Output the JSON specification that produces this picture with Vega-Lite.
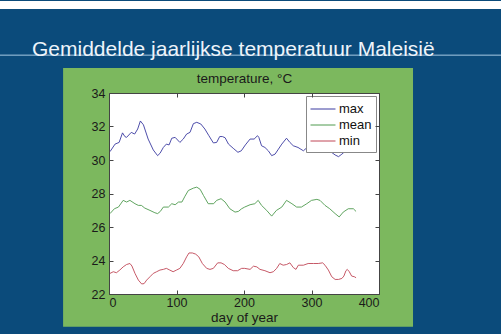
{
  "$schema": "https://vega.github.io/schema/vega-lite/v6.json",
  "width": 270,
  "height": 201,
  "autosize": {"type": "none"},
  "padding": {"left": 109, "top": 93, "right": 122, "bottom": 40},
  "background": "#0b4b7b",
  "title": {
    "text": "Gemiddelde jaarlijkse temperatuur Maleisië",
    "anchor": "start",
    "frame": "group",
    "dx": -77,
    "dy": 76,
    "offset": 0,
    "baseline": "alphabetic",
    "font": "Liberation Sans",
    "fontSize": 21,
    "fontWeight": "normal",
    "color": "#eef4fa"
  },
  "config": {
    "axis": {
      "domainColor": "#444444",
      "tickColor": "#444444",
      "labelColor": "#1a1a1a",
      "titleColor": "#1a1a1a",
      "labelFont": "Liberation Sans",
      "titleFont": "Liberation Sans",
      "labelFontSize": 12.5,
      "titleFontSize": 13.5,
      "titleFontWeight": "normal",
      "grid": false
    },
    "legend": {
      "orient": "top-right",
      "offset": 3,
      "padding": 4,
      "fillColor": "#ffffff",
      "strokeColor": "#888888",
      "labelFont": "Liberation Sans",
      "labelFontSize": 13,
      "labelColor": "#111111",
      "symbolType": "M-1,0H1.94",
      "symbolSize": 289,
      "symbolStrokeWidth": 1,
      "labelOffset": 11,
      "rowPadding": 0
    }
  },
  "resolve": {"axis": {"x": "independent", "y": "independent"}},
  "layer": [
    {
      "data": {"values": [{}]},
      "mark": {"type": "rect", "color": "#ffffff", "clip": false},
      "encoding": {
        "x": {"datum": -162, "type": "quantitative", "scale": {"domain": [0, 400]}, "axis": null},
        "x2": {"datum": 581},
        "y": {"datum": 39.5, "type": "quantitative", "scale": {"domain": [22, 34]}, "axis": null},
        "y2": {"datum": 39.02}
      }
    },
    {
      "data": {"values": [{}]},
      "mark": {"type": "rule", "color": "#a9cbe4", "strokeWidth": 1, "clip": false},
      "encoding": {
        "x": {"datum": -162, "type": "quantitative", "scale": {"domain": [0, 400]}, "axis": null},
        "x2": {"datum": 581},
        "y": {"datum": 36.26, "type": "quantitative", "scale": {"domain": [22, 34]}, "axis": null}
      }
    },
    {
      "data": {"values": [{}]},
      "mark": {"type": "rect", "color": "#7cb85e", "clip": false},
      "encoding": {
        "x": {"datum": -68, "type": "quantitative", "scale": {"domain": [0, 400]}, "axis": null},
        "x2": {"datum": 450.4},
        "y": {"datum": 35.49, "type": "quantitative", "scale": {"domain": [22, 34]}, "axis": null},
        "y2": {"datum": 20.04}
      }
    },
    {
      "data": {"values": [{}]},
      "mark": {"type": "rect", "color": "#ffffff", "clip": false},
      "encoding": {
        "x": {"datum": 0, "type": "quantitative", "scale": {"domain": [0, 400]},
          "axis": {"orient": "top", "zindex": 1, "title": "temperature, °C", "labels": false, "values": [0, 100, 200, 300, 400], "tickSize": -4, "titlePadding": 7}},
        "x2": {"datum": 400},
        "y": {"datum": 22, "type": "quantitative", "scale": {"domain": [22, 34]},
          "axis": {"orient": "right", "zindex": 1, "title": null, "labels": false, "values": [22, 24, 26, 28, 30, 32, 34], "tickSize": -4}},
        "y2": {"datum": 34}
      }
    },
    {
      "data": {"values": [
        {"series": "max", "day": 1.5, "temp": 30.5},
        {"series": "max", "day": 9, "temp": 30.95},
        {"series": "max", "day": 15, "temp": 31.05},
        {"series": "max", "day": 20, "temp": 31.62},
        {"series": "max", "day": 23.5, "temp": 31.4},
        {"series": "max", "day": 26, "temp": 31.35},
        {"series": "max", "day": 33, "temp": 31.65},
        {"series": "max", "day": 38, "temp": 31.55},
        {"series": "max", "day": 42.5, "temp": 31.85},
        {"series": "max", "day": 46.5, "temp": 32.33},
        {"series": "max", "day": 51, "temp": 32.1},
        {"series": "max", "day": 58, "temp": 31.25},
        {"series": "max", "day": 65.6, "temp": 30.6},
        {"series": "max", "day": 72, "temp": 30.26},
        {"series": "max", "day": 75.6, "temp": 30.4},
        {"series": "max", "day": 80.5, "temp": 30.75},
        {"series": "max", "day": 85, "temp": 30.95},
        {"series": "max", "day": 89, "temp": 30.9},
        {"series": "max", "day": 93, "temp": 31.3},
        {"series": "max", "day": 98, "temp": 31.35},
        {"series": "max", "day": 105, "temp": 31.05},
        {"series": "max", "day": 110, "temp": 31.25},
        {"series": "max", "day": 115, "temp": 31.55},
        {"series": "max", "day": 120, "temp": 31.65},
        {"series": "max", "day": 125, "temp": 32.17},
        {"series": "max", "day": 130, "temp": 32.25},
        {"series": "max", "day": 136, "temp": 32.15},
        {"series": "max", "day": 142, "temp": 31.85},
        {"series": "max", "day": 148, "temp": 31.45},
        {"series": "max", "day": 154.6, "temp": 31.02},
        {"series": "max", "day": 159.5, "temp": 31.05},
        {"series": "max", "day": 164, "temp": 31.4},
        {"series": "max", "day": 168, "temp": 31.4},
        {"series": "max", "day": 172, "temp": 31.33},
        {"series": "max", "day": 177, "temp": 30.95},
        {"series": "max", "day": 184, "temp": 30.7},
        {"series": "max", "day": 191, "temp": 30.46},
        {"series": "max", "day": 196, "temp": 30.55},
        {"series": "max", "day": 202, "temp": 30.9},
        {"series": "max", "day": 209, "temp": 31.25},
        {"series": "max", "day": 215, "temp": 31.25},
        {"series": "max", "day": 220, "temp": 31.45},
        {"series": "max", "day": 222, "temp": 31.35},
        {"series": "max", "day": 226, "temp": 30.85},
        {"series": "max", "day": 231, "temp": 30.75},
        {"series": "max", "day": 236, "temp": 30.55},
        {"series": "max", "day": 241, "temp": 30.26},
        {"series": "max", "day": 246, "temp": 30.35},
        {"series": "max", "day": 251, "temp": 30.65},
        {"series": "max", "day": 256, "temp": 30.95},
        {"series": "max", "day": 263, "temp": 31.3},
        {"series": "max", "day": 268, "temp": 31.05},
        {"series": "max", "day": 273, "temp": 30.85},
        {"series": "max", "day": 280, "temp": 30.75},
        {"series": "max", "day": 288, "temp": 30.55},
        {"series": "max", "day": 295, "temp": 30.8},
        {"series": "max", "day": 305, "temp": 31.0},
        {"series": "max", "day": 315, "temp": 30.8},
        {"series": "max", "day": 325, "temp": 30.6},
        {"series": "max", "day": 335, "temp": 30.3},
        {"series": "max", "day": 340, "temp": 30.2},
        {"series": "max", "day": 345, "temp": 30.35},
        {"series": "max", "day": 355, "temp": 30.7},
        {"series": "max", "day": 365, "temp": 30.9},

        {"series": "mean", "day": 1.5, "temp": 26.8},
        {"series": "mean", "day": 8, "temp": 27.09},
        {"series": "mean", "day": 14, "temp": 27.19},
        {"series": "mean", "day": 21, "temp": 27.59},
        {"series": "mean", "day": 26, "temp": 27.49},
        {"series": "mean", "day": 31, "temp": 27.59},
        {"series": "mean", "day": 38.5, "temp": 27.39},
        {"series": "mean", "day": 43.5, "temp": 27.29},
        {"series": "mean", "day": 48, "temp": 27.29},
        {"series": "mean", "day": 53, "temp": 27.13},
        {"series": "mean", "day": 60.7, "temp": 26.99},
        {"series": "mean", "day": 68, "temp": 26.85},
        {"series": "mean", "day": 72, "temp": 26.8},
        {"series": "mean", "day": 76, "temp": 26.93},
        {"series": "mean", "day": 80.5, "temp": 27.19},
        {"series": "mean", "day": 88, "temp": 27.19},
        {"series": "mean", "day": 93, "temp": 27.39},
        {"series": "mean", "day": 98, "temp": 27.33},
        {"series": "mean", "day": 103, "temp": 27.49},
        {"series": "mean", "day": 108, "temp": 27.49},
        {"series": "mean", "day": 112.6, "temp": 27.84},
        {"series": "mean", "day": 117.5, "temp": 28.18},
        {"series": "mean", "day": 125, "temp": 28.32},
        {"series": "mean", "day": 130, "temp": 28.38},
        {"series": "mean", "day": 135, "temp": 28.25},
        {"series": "mean", "day": 140, "temp": 27.88},
        {"series": "mean", "day": 147, "temp": 27.39},
        {"series": "mean", "day": 155, "temp": 27.39},
        {"series": "mean", "day": 159.5, "temp": 27.59},
        {"series": "mean", "day": 166, "temp": 27.69},
        {"series": "mean", "day": 172, "temp": 27.49},
        {"series": "mean", "day": 179, "temp": 27.09},
        {"series": "mean", "day": 186.7, "temp": 26.89},
        {"series": "mean", "day": 191.6, "temp": 26.93},
        {"series": "mean", "day": 196.5, "temp": 27.09},
        {"series": "mean", "day": 201, "temp": 27.19},
        {"series": "mean", "day": 209, "temp": 27.33},
        {"series": "mean", "day": 216, "temp": 27.39},
        {"series": "mean", "day": 221, "temp": 27.59},
        {"series": "mean", "day": 226, "temp": 27.29},
        {"series": "mean", "day": 233.6, "temp": 26.99},
        {"series": "mean", "day": 241, "temp": 26.65},
        {"series": "mean", "day": 248, "temp": 26.99},
        {"series": "mean", "day": 256, "temp": 27.19},
        {"series": "mean", "day": 263, "temp": 27.59},
        {"series": "mean", "day": 271, "temp": 27.39},
        {"series": "mean", "day": 278, "temp": 27.19},
        {"series": "mean", "day": 285, "temp": 27.19},
        {"series": "mean", "day": 293, "temp": 27.39},
        {"series": "mean", "day": 300, "temp": 27.59},
        {"series": "mean", "day": 308, "temp": 27.65},
        {"series": "mean", "day": 312.6, "temp": 27.59},
        {"series": "mean", "day": 320, "temp": 27.29},
        {"series": "mean", "day": 327, "temp": 27.09},
        {"series": "mean", "day": 335, "temp": 26.8},
        {"series": "mean", "day": 341, "temp": 26.6},
        {"series": "mean", "day": 347, "temp": 26.89},
        {"series": "mean", "day": 354.5, "temp": 27.09},
        {"series": "mean", "day": 362, "temp": 27.09},
        {"series": "mean", "day": 366, "temp": 26.93},

        {"series": "min", "day": 1.5, "temp": 23.23},
        {"series": "min", "day": 6.4, "temp": 23.33},
        {"series": "min", "day": 11, "temp": 23.27},
        {"series": "min", "day": 16, "temp": 23.43},
        {"series": "min", "day": 21, "temp": 23.62},
        {"series": "min", "day": 26, "temp": 23.76},
        {"series": "min", "day": 31, "temp": 23.82},
        {"series": "min", "day": 34, "temp": 23.67},
        {"series": "min", "day": 38.5, "temp": 23.23},
        {"series": "min", "day": 43.5, "temp": 22.83},
        {"series": "min", "day": 48.4, "temp": 22.6},
        {"series": "min", "day": 52, "temp": 22.62},
        {"series": "min", "day": 55.8, "temp": 22.83},
        {"series": "min", "day": 60.7, "temp": 23.03},
        {"series": "min", "day": 65.6, "temp": 23.23},
        {"series": "min", "day": 70.6, "temp": 23.33},
        {"series": "min", "day": 75.5, "temp": 23.43},
        {"series": "min", "day": 80.5, "temp": 23.47},
        {"series": "min", "day": 85, "temp": 23.53},
        {"series": "min", "day": 90, "temp": 23.43},
        {"series": "min", "day": 95, "temp": 23.33},
        {"series": "min", "day": 100, "temp": 23.43},
        {"series": "min", "day": 105, "temp": 23.53},
        {"series": "min", "day": 110, "temp": 23.82},
        {"series": "min", "day": 115, "temp": 24.22},
        {"series": "min", "day": 118.5, "temp": 24.45},
        {"series": "min", "day": 123.5, "temp": 24.45},
        {"series": "min", "day": 128.4, "temp": 24.38},
        {"series": "min", "day": 133, "temp": 24.22},
        {"series": "min", "day": 138.3, "temp": 23.82},
        {"series": "min", "day": 144.7, "temp": 23.53},
        {"series": "min", "day": 149.6, "temp": 23.47},
        {"series": "min", "day": 154.6, "temp": 23.53},
        {"series": "min", "day": 161, "temp": 23.86},
        {"series": "min", "day": 166, "temp": 23.86},
        {"series": "min", "day": 171, "temp": 23.76},
        {"series": "min", "day": 176.8, "temp": 23.53},
        {"series": "min", "day": 184, "temp": 23.39},
        {"series": "min", "day": 190.5, "temp": 23.39},
        {"series": "min", "day": 196.5, "temp": 23.53},
        {"series": "min", "day": 201, "temp": 23.53},
        {"series": "min", "day": 209, "temp": 23.47},
        {"series": "min", "day": 214, "temp": 23.66},
        {"series": "min", "day": 219, "temp": 23.62},
        {"series": "min", "day": 223.7, "temp": 23.47},
        {"series": "min", "day": 231, "temp": 23.39},
        {"series": "min", "day": 238.5, "temp": 23.27},
        {"series": "min", "day": 243.5, "temp": 23.33},
        {"series": "min", "day": 248.4, "temp": 23.53},
        {"series": "min", "day": 253, "temp": 23.82},
        {"series": "min", "day": 258, "temp": 23.72},
        {"series": "min", "day": 263, "temp": 23.76},
        {"series": "min", "day": 268, "temp": 23.86},
        {"series": "min", "day": 273, "temp": 23.58},
        {"series": "min", "day": 277, "temp": 23.47},
        {"series": "min", "day": 280.5, "temp": 23.72},
        {"series": "min", "day": 288, "temp": 23.72},
        {"series": "min", "day": 295, "temp": 23.82},
        {"series": "min", "day": 303, "temp": 23.82},
        {"series": "min", "day": 310, "temp": 23.82},
        {"series": "min", "day": 316.5, "temp": 23.86},
        {"series": "min", "day": 320, "temp": 23.72},
        {"series": "min", "day": 325, "temp": 23.43},
        {"series": "min", "day": 330, "temp": 23.03},
        {"series": "min", "day": 335, "temp": 22.87},
        {"series": "min", "day": 340, "temp": 22.87},
        {"series": "min", "day": 345, "temp": 22.93},
        {"series": "min", "day": 348, "temp": 23.07},
        {"series": "min", "day": 351, "temp": 23.39},
        {"series": "min", "day": 353, "temp": 23.47},
        {"series": "min", "day": 356, "temp": 23.33},
        {"series": "min", "day": 359.5, "temp": 23.07},
        {"series": "min", "day": 363.5, "temp": 23.03},
        {"series": "min", "day": 366, "temp": 22.97}
      ]},
      "mark": {"type": "line", "strokeWidth": 0.9, "clip": false},
      "encoding": {
        "x": {"field": "day", "type": "quantitative", "scale": {"domain": [0, 400]},
          "axis": {"orient": "bottom", "zindex": 1, "title": "day of year", "values": [0, 100, 200, 300, 400], "tickSize": -4, "labelPadding": 6, "titlePadding": 2}},
        "y": {"field": "temp", "type": "quantitative", "scale": {"domain": [22, 34]},
          "axis": {"orient": "left", "zindex": 1, "title": null, "values": [22, 24, 26, 28, 30, 32, 34], "tickSize": -4, "labelPadding": 8}},
        "color": {"field": "series", "type": "nominal",
          "scale": {"domain": ["max", "mean", "min"], "range": ["#3a3aa0", "#4e9a4e", "#c04656"]},
          "legend": {"title": null}}
      }
    }
  ]
}
